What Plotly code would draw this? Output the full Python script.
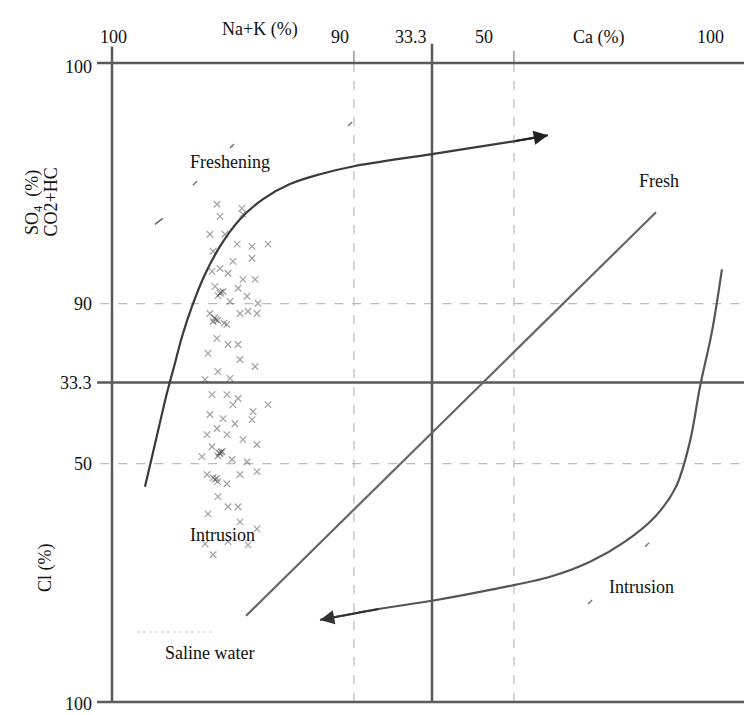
import plotly.graph_objects as go

# ---------------- data (diagram units, -100..100) ----------------
top_tick_pos = [-99.4, -28.75, -6.6, 16.25, 86.9]
top_tick_text = ["100", "90", "33.3", "50", "100"]
left_tick_pos = [98.8, 24.7, 0.0, -25.4, -100.5]
left_tick_text = ["100", "90", "33.3", "50", "100"]
x_dashed = [-24.4, 25.6]
y_dashed = [24.7, -25.4]

pts_x = [-67.2, -59.4, -59.1, -66.25, -69.4, -64.7, -60.9, -51.25, -56.25, -68.4,
         -56.25, -62.2, -68.75, -66.25, -63.75, -59.1, -55.3, -66.25, -65.3, -60.6,
         -57.8, -54.4, -54.7, -60.0, -69.4, -68.4, -67.5, -64.1, -67.2, -63.75,
         -60.6, -70.0, -60.0, -55.3, -66.9, -63.1, -70.9, -67.8, -63.1, -57.5,
         -66.9, -65.0, -66.0, -67.0, -68.0,
         -68.75, -64.1, -60.6, -62.2, -51.25, -55.9, -69.4, -65.3, -61.6, -56.25,
         -67.2, -70.3, -64.1, -59.1, -54.7, -66.25, -65.6, -71.9, -62.5, -57.8,
         -54.7, -60.0, -70.3, -67.8, -68.4, -64.1, -66.9, -63.75, -60.6, -70.0,
         -60.0, -54.7, -70.9, -63.75, -57.5, -68.4, -68.75, -66.9, -67.0, -66.5,
         -67.3, -65.9]
pts_y = [55.8, 54.5, 52.7, 52.0, 46.4, 46.4, 43.3, 43.3, 42.6, 41.1,
         38.9, 37.9, 34.8, 35.7, 34.2, 32.3, 32.3, 27.9, 28.5, 29.5,
         27.0, 24.8, 21.6, 21.6, 21.6, 19.1, 19.7, 18.2, 13.8, 11.9,
         11.9, 9.1, 7.2, 5.0, 3.4, 1.3, 0.9, 30.1, 25.4, 22.3,
         27.2, 18.6, 28.3, 19.4, 20.2,
         -3.8, -3.8, -5.0, -6.9, -6.9, -9.1, -10.0, -11.3, -12.9, -11.6,
         -14.4, -16.3, -16.3, -17.9, -19.4, -22.3, -21.6, -23.2, -24.1, -24.8,
         -27.9, -28.8, -28.8, -30.4, -29.8, -31.7, -35.7, -38.9, -38.9, -41.1,
         -43.6, -45.8, -50.5, -49.8, -50.8, -53.9, -20.1, -23.0, -31.0, -22.0,
         -30.0, -21.8]

fresh_x = [-89.7, -87.5, -85.3, -83.1, -80.6, -78.1, -75.0, -71.25, -66.25, -60.0,
           -52.8, -44.4, -35.0, -24.4, 0.0, 25.6, 36.25]
fresh_y = [-32.6, -23.2, -13.8, -4.4, 5.0, 14.4, 23.8, 33.2, 42.6, 51.1,
           57.4, 62.1, 65.2, 67.7, 71.5, 75.5, 77.4]

intr_x = [90.6, 87.5, 83.75, 80.6, 76.25, 69.7, 60.3, 49.4, 36.9, 18.1,
          0.0, -16.25, -35.0]
intr_y = [35.4, 16.0, -1.3, -18.5, -32.6, -42.0, -49.8, -56.1, -60.8, -64.9,
          -68.3, -70.8, -74.3]

diag_x = [-58.1, 70.0]
diag_y = [-73.0, 53.3]

stray_x = [-62.5, -74.1, -25.6, 67.2, 49.4]
stray_y = [74.0, 62.4, 80.9, -50.8, -68.7]

labels = ["Freshening", "Fresh", "Intrusion", "Intrusion", "Saline water"]
label_x = [-63.1, 70.9, -65.6, 65.6, -69.4]
label_y = [69.0, 63.0, -47.6, -63.9, -84.6]

# ---------------- figure ----------------
FONT = "Liberation Serif, Times New Roman, serif"
DARK = "#5a5a5a"
XMIN, XMAX = -104.6875, 97.5
YMIN, YMAX = -101.567, 106.27

fig = go.Figure()

fig.add_trace(go.Scatter(x=pts_x, y=pts_y, mode="markers",
                         marker=dict(symbol="x-thin", size=6.5,
                                     line=dict(width=1.2, color="rgba(70,70,70,0.5)")),
                         hoverinfo="skip"))
fig.add_trace(go.Scatter(x=stray_x, y=stray_y, mode="markers",
                         marker=dict(symbol="line-ne", size=4,
                                     line=dict(width=1.5, color="rgba(60,60,60,0.7)")),
                         hoverinfo="skip"))
fig.add_trace(go.Scatter(x=[-86.6, -84.1], y=[49.5, 51.4], mode="lines",
                         line=dict(color="rgba(60,60,60,0.8)", width=1.5), hoverinfo="skip"))
fig.add_trace(go.Scatter(x=[-92.2, -68.4], y=[-78.1, -78.1], mode="lines",
                         line=dict(color="rgba(150,150,150,0.35)", width=1.5, dash="dot"),
                         hoverinfo="skip"))
fig.add_trace(go.Scatter(x=fresh_x, y=fresh_y, mode="lines", line_shape="spline",
                         line=dict(color="#3a3a3a", width=2.2, smoothing=1.0), hoverinfo="skip"))
fig.add_trace(go.Scatter(x=intr_x, y=intr_y, mode="lines", line_shape="spline",
                         line=dict(color="#555555", width=2.2, smoothing=1.0), hoverinfo="skip"))
fig.add_trace(go.Scatter(x=diag_x, y=diag_y, mode="lines",
                         line=dict(color="#666666", width=2.2), hoverinfo="skip"))

shapes = []
def seg(x0, y0, x1, y1, color=DARK, width=2.5, dash="solid"):
    shapes.append(dict(type="line", xref="x", yref="y", x0=x0, y0=y0, x1=x1, y1=y1,
                       line=dict(color=color, width=width, dash=dash), layer="below"))

for yv in y_dashed:
    seg(XMIN + 1, yv, XMAX, yv, color="#bbbbbb", width=1.2, dash="dash")
for xv in x_dashed:
    seg(xv, 100, xv, -100, color="#bbbbbb", width=1.2, dash="dash")
    seg(xv, 100, xv, 103.8, color="#999999", width=1.5)
# frame and centre lines
seg(XMIN, 100, XMAX, 100)
seg(XMIN, -100, XMAX, -100)
seg(-100, 105.2, -100, -100)
seg(0, 106.0, 0, -100)
seg(XMIN, 0, XMAX, 0)

ann = []
for xv, t in zip(top_tick_pos, top_tick_text):
    ann.append(dict(x=xv, y=(707 - 37) / 664, xref="x", yref="paper", text=t,
                    showarrow=False, xanchor="center", yanchor="middle"))
for yv, t in zip(left_tick_pos, left_tick_text):
    ann.append(dict(x=(94 - 97) / 647, y=yv, xref="paper", yref="y", text=t,
                    showarrow=False, xanchor="right", yanchor="middle"))
ann.append(dict(x=-53.75, y=(707 - 17) / 664, xref="x", yref="paper", text="Na+K (%)",
                showarrow=False))
ann.append(dict(x=51.9, y=(707 - 25) / 664, xref="x", yref="paper", text="Ca (%)",
                showarrow=False))
ann.append(dict(x=(20 - 97) / 647, y=(707 - 168) / 664, xref="paper", yref="paper",
                text="SO<sub>4</sub>  (%)", textangle=-90, showarrow=False))
ann.append(dict(x=(38 - 97) / 647, y=(707 - 166) / 664, xref="paper", yref="paper",
                text="CO2+HC", textangle=-90, showarrow=False))
ann.append(dict(x=(33 - 97) / 647, y=(707 - 594) / 664, xref="paper", yref="paper",
                text="Cl (%)", textangle=-90, showarrow=False))
for t, xv, yv in zip(labels, label_x, label_y):
    ann.append(dict(x=xv, y=yv, xref="x", yref="y", text=t, showarrow=False))
# arrow heads
ann.append(dict(x=fresh_x[-1], y=fresh_y[-1], ax=fresh_x[-2], ay=fresh_y[-2],
                xref="x", yref="y", axref="x", ayref="y", text="", showarrow=True,
                arrowhead=2, arrowsize=1.3, arrowwidth=2.2, arrowcolor="#222222"))
ann.append(dict(x=intr_x[-1], y=intr_y[-1], ax=intr_x[-2], ay=intr_y[-2],
                xref="x", yref="y", axref="x", ayref="y", text="", showarrow=True,
                arrowhead=2, arrowsize=1.3, arrowwidth=2.2, arrowcolor="#333333"))

fig.update_layout(
    width=744, height=715,
    margin=dict(l=97, r=0, t=43, b=8),
    paper_bgcolor="white", plot_bgcolor="white",
    showlegend=False,
    font=dict(family=FONT, size=18, color="#111111"),
    xaxis=dict(range=[XMIN, XMAX], visible=False, fixedrange=True),
    yaxis=dict(range=[YMIN, YMAX], visible=False, fixedrange=True),
    shapes=shapes, annotations=ann,
)

fig.write_html("out.html")
